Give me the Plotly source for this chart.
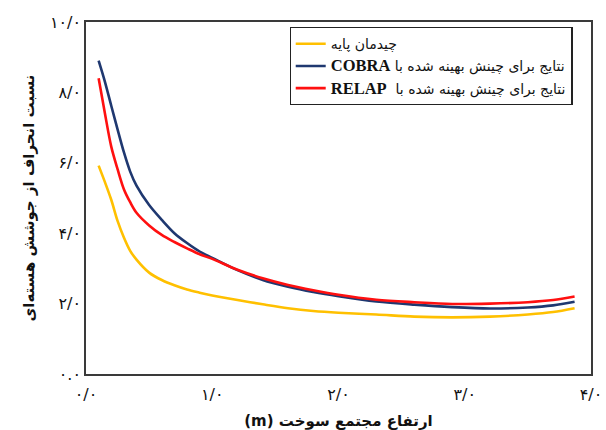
import plotly.graph_objects as go

x_vals = [0.10, 0.15, 0.20, 0.25, 0.30, 0.35, 0.40, 0.50, 0.60, 0.70, 0.80, 0.90,
          1.00, 1.20, 1.40, 1.60, 1.80, 2.00, 2.30, 2.60, 2.90, 3.20, 3.50, 3.70, 3.87]

base_vals = [5.92, 5.45, 4.95, 4.35, 3.88, 3.50, 3.25, 2.88, 2.67, 2.52, 2.40, 2.31,
             2.23, 2.10, 1.98, 1.87, 1.79, 1.74, 1.69, 1.63, 1.61, 1.63, 1.69, 1.76, 1.87]

cobra_vals = [8.90, 8.30, 7.62, 6.95, 6.30, 5.75, 5.35, 4.80, 4.38, 4.00, 3.72, 3.48,
              3.30, 2.95, 2.67, 2.48, 2.33, 2.21, 2.06, 1.97, 1.90, 1.86, 1.89, 1.95, 2.05]

relap_vals = [8.40, 7.40, 6.46, 5.82, 5.25, 4.88, 4.58, 4.22, 3.95, 3.75, 3.57, 3.40,
              3.27, 2.96, 2.72, 2.53, 2.38, 2.25, 2.11, 2.04, 1.99, 2.00, 2.04, 2.10, 2.20]

series_names = [
    "چیدمان پایه",
    "\u202bنتایج برای چینش بهینه شده با <span style=\"font-family:Liberation Serif;font-weight:bold;font-size:16.5px\">COBRA</span>\u202c",
    "\u202bنتایج برای چینش بهینه شده با  <span style=\"font-family:Liberation Serif;font-weight:bold;font-size:16.5px\">RELAP</span>\u202c",
]
series_colors = ["#FFC000", "#1F3870", "#FF1010"]

x_tickvals = [0, 1, 2, 3, 4]
x_ticktext = ["۰/۰", "۱/۰", "۲/۰", "۳/۰", "۴/۰"]
y_tickvals = [0, 2, 4, 6, 8, 10]
y_ticktext = ["۰.۰", "۲/۰", "۴/۰", "۶/۰", "۸/۰", "۱۰/۰"]

x_title = "\u202bارتفاع مجتمع سوخت (m)\u202c"
y_title = "نسبت انحراف از جوشش هسته‌ای"

fig = go.Figure()
for i, (vals, name, col) in enumerate(zip([base_vals, cobra_vals, relap_vals], series_names, series_colors)):
    fig.add_trace(go.Scatter(
        x=x_vals, y=vals, mode="lines", name=name,
        line=dict(color=col, width=2.6, shape="spline", smoothing=0.9),
        legendgroup=f"g{i}",
    ))

axis_common = dict(
    showline=True, mirror=True, linecolor="#3a3a3a", linewidth=1.5,
    showgrid=False, zeroline=False, ticks="", automargin=False,
    tickfont=dict(family="DejaVu Sans", size=16, color="#111111"),
)

fig.update_layout(
    width=606, height=430,
    margin=dict(l=86, r=15, t=22, b=56),
    paper_bgcolor="white", plot_bgcolor="white",
    font=dict(family="DejaVu Sans", color="#111111"),
    xaxis=dict(range=[0, 4], tickvals=x_tickvals, ticktext=x_ticktext, ticklabelstandoff=5,
               title=dict(text=x_title, font=dict(size=15, family="DejaVu Sans", weight="bold"), standoff=14),
               **axis_common),
    yaxis=dict(range=[0, 10], tickvals=y_tickvals, ticktext=y_ticktext,
               title=dict(text=y_title, font=dict(size=15, family="DejaVu Sans", weight="bold"), standoff=12),
               **axis_common),
    showlegend=True,
    legend=dict(
        x=0.403, y=0.986, xanchor="left", yanchor="top",
        bordercolor="#222222", borderwidth=1.2, bgcolor="white",
        font=dict(family="DejaVu Sans", size=14, color="#111111"),
        tracegroupgap=1, traceorder="grouped",
    ),
)

fig.write_html("out.html")
